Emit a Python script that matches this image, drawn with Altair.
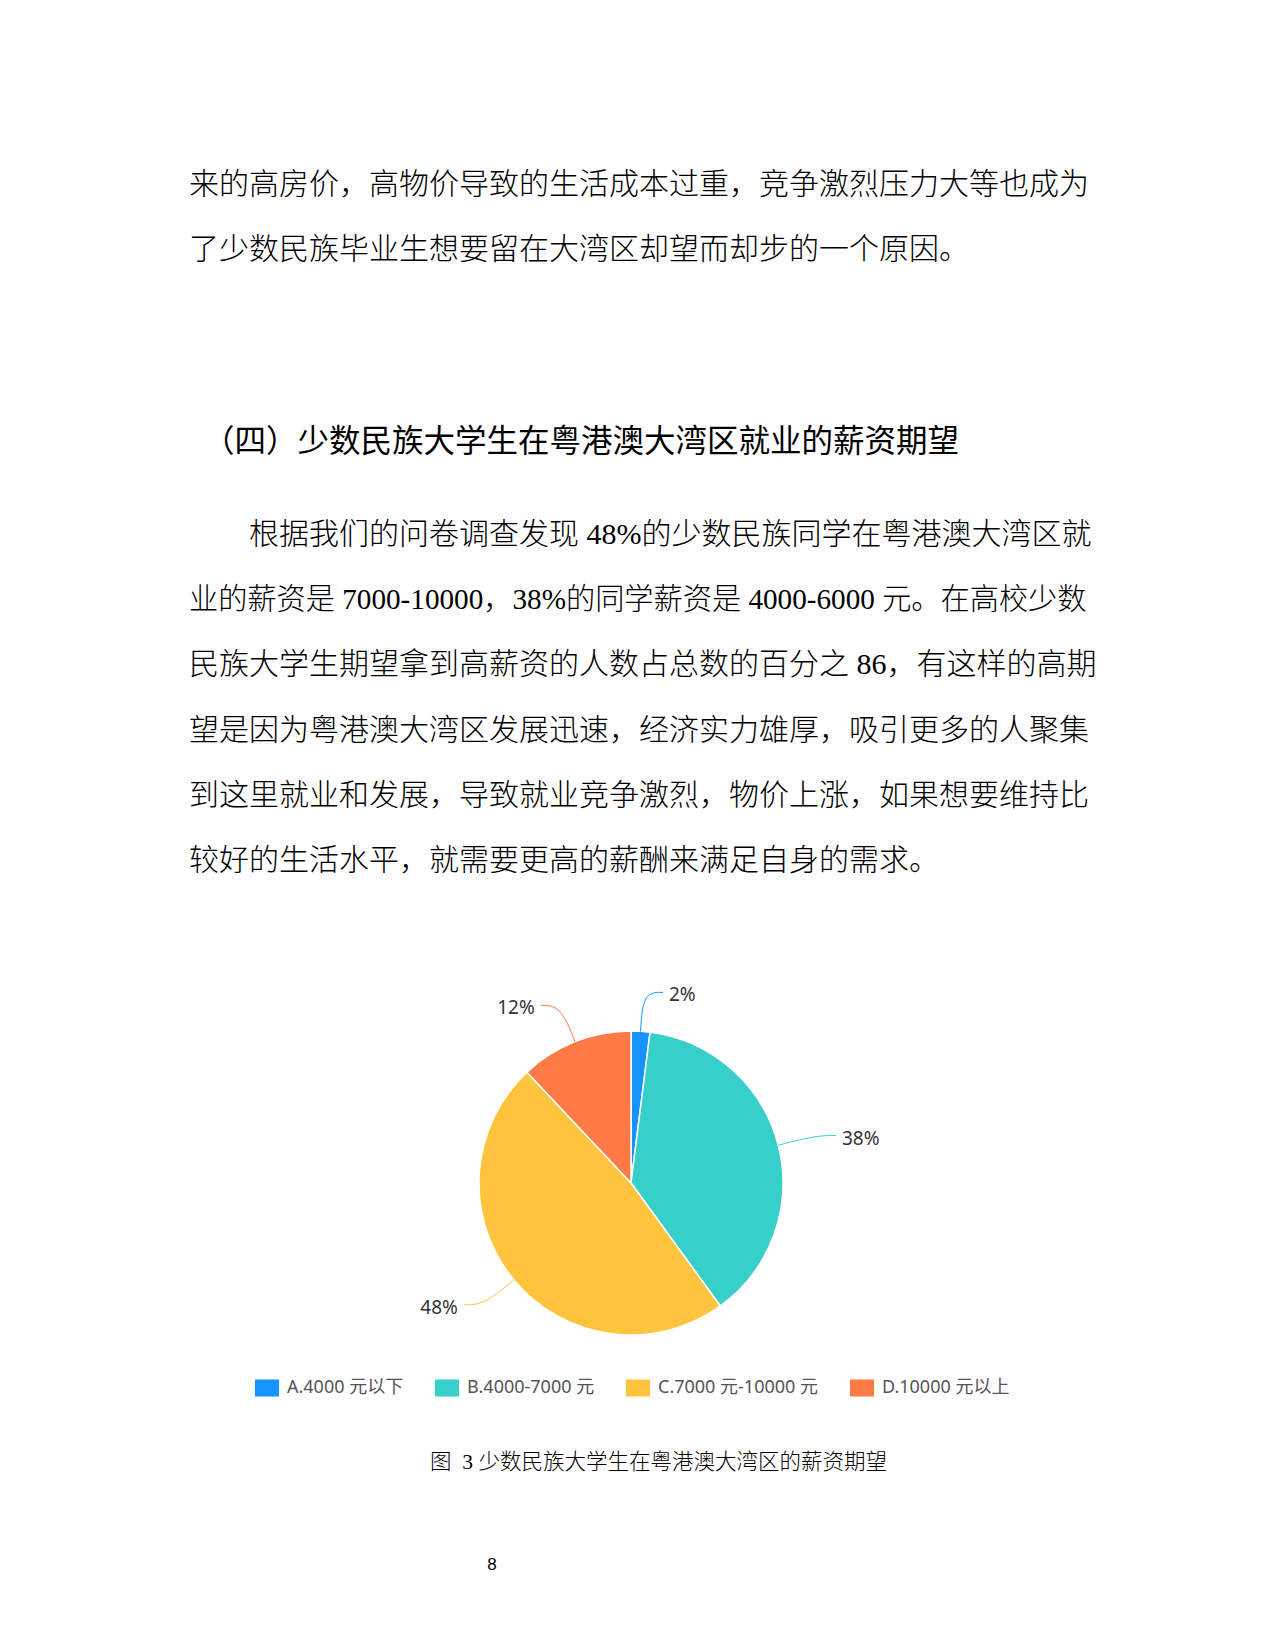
import altair as alt
import pandas as pd

# ---------------- data ----------------
categories = ["A.4000 元以下", "B.4000-7000 元", "C.7000 元-10000 元", "D.10000 元以上"]
shares = [2, 38, 48, 12]
palette = ["#1593FF", "#37CFC9", "#FEC43D", "#FF7A45"]

upper_lines = [
    "来的高房价，高物价导致的生活成本过重，竞争激烈压力大等也成为",
    "了少数民族毕业生想要留在大湾区却望而却步的一个原因。",
]
heading = "（四）少数民族大学生在粤港澳大湾区就业的薪资期望"
para_lines = [
    "根据我们的问卷调查发现 48%的少数民族同学在粤港澳大湾区就",
    "业的薪资是 7000-10000，38%的同学薪资是 4000-6000 元。在高校少数",
    "民族大学生期望拿到高薪资的人数占总数的百分之 86，有这样的高期",
    "望是因为粤港澳大湾区发展迅速，经济实力雄厚，吸引更多的人聚集",
    "到这里就业和发展，导致就业竞争激烈，物价上涨，如果想要维持比",
    "较好的生活水平，就需要更高的薪酬来满足自身的需求。",
]
caption = "图\u00a0\u00a03\u00a0少数民族大学生在粤港澳大湾区的薪资期望"
page_no = "8"

# ---------------- layout ----------------
W, H = 1259, 1634
CX, CY = 623, 1175
R = 152
R1 = 191
L2 = 20
GAP = 6

BODY_FONT = "Liberation Serif, Noto Sans CJK SC"
HEAD_FONT = "Noto Sans CJK SC"
SANS = "Noto Sans, Noto Sans CJK SC"

df = pd.DataFrame({"cat": categories, "pct": shares})
cscale = alt.Scale(domain=categories, range=palette)
xs = alt.Scale(domain=[0, W], range=[0, W], nice=False, zero=False)
ys = alt.Scale(domain=[0, H], range=[0, H], nice=False, zero=False)

pie = alt.Chart(df).mark_arc(outerRadius=R, stroke="white", strokeWidth=1.5).encode(
    theta=alt.Theta("pct:Q", stack=True),
    color=alt.Color(
        "cat:N", scale=cscale, sort=categories,
        legend=alt.Legend(
            title=None, orient="none", legendX=247, legendY=1368,
            direction="horizontal",
            symbolType="M-1,-0.7083H1V0.7083H-1Z", symbolSize=576,
            symbolStrokeWidth=0, symbolOpacity=1,
            labelFont=SANS, labelFontSize=18, labelColor="#555555",
            labelOffset=8, columnPadding=31, labelLimit=400,
        ),
    ),
    order=alt.Order("cat:N", sort="ascending"),
    x=alt.value(CX),
    y=alt.value(CY),
)

geo = (
    alt.Chart(df)
    .transform_window(cum="sum(pct)", sort=[alt.SortField("cat", order="ascending")], frame=[None, 0])
    .transform_joinaggregate(total="sum(pct)")
    .transform_calculate(ang="2*PI*(datum.cum - datum.pct/2)/datum.total")
    .transform_calculate(sx="sin(datum.ang)")
    .transform_calculate(cx="cos(datum.ang)")
    .transform_calculate(side="datum.sx >= 0 ? 1 : -1")
)

lines = (
    geo.transform_calculate(pts="[0, 1, 2]")
    .transform_flatten(["pts"])
    .transform_calculate(rr=f"datum.pts == 0 ? {R} : {R1}")
    .transform_calculate(px=f"{CX} + datum.rr*datum.sx + (datum.pts == 2 ? datum.side*{L2} : 0)")
    .transform_calculate(py=f"{CY} - datum.rr*datum.cx")
    .mark_line(interpolate="basis", strokeWidth=1)
    .encode(
        x=alt.X("px:Q", scale=xs, axis=None),
        y=alt.Y("py:Q", scale=ys, axis=None),
        detail="cat:N",
        order="pts:Q",
        stroke=alt.Stroke("cat:N", scale=cscale, legend=None),
    )
)

lab = (
    geo.transform_calculate(lx=f"{CX} + {R1}*datum.sx + datum.side*{L2 + GAP}")
    .transform_calculate(ly=f"{CY} - {R1}*datum.cx + 3")
    .transform_calculate(lab="datum.pct + '%'")
)
lab_r = lab.transform_filter("datum.side > 0").mark_text(
    align="left", baseline="middle", font=SANS, fontSize=19, color="#333333"
).encode(x=alt.X("lx:Q", scale=xs, axis=None), y=alt.Y("ly:Q", scale=ys, axis=None), text="lab:N")
lab_l = lab.transform_filter("datum.side < 0").mark_text(
    align="right", baseline="middle", font=SANS, fontSize=19, color="#333333"
).encode(x=alt.X("lx:Q", scale=xs, axis=None), y=alt.Y("ly:Q", scale=ys, axis=None), text="lab:N")


def txt(s, x, y, size, font, align="left", weight="normal", color="#000000"):
    return alt.Chart(pd.DataFrame({"t": [s]})).mark_text(
        align=align, baseline="middle", font=font, fontSize=size,
        fontWeight=weight, color=color,
    ).encode(text="t:N", x=alt.value(x), y=alt.value(y))


texts = []
LEFT = 181
for i, s in enumerate(upper_lines):
    texts.append(txt(s, LEFT, 177 + i * 65, 30, BODY_FONT, weight=300))
texts.append(txt(heading, 195, 435, 31.5, HEAD_FONT))
para_sizes = [30, 29.2, 30, 30, 30, 30]
for i, s in enumerate(para_lines):
    x = LEFT + 60 if i == 0 else LEFT
    texts.append(txt(s, x, 527 + i * 65.2, para_sizes[i], BODY_FONT, weight=300))
texts.append(txt(caption, 422, 1455, 21.5, BODY_FONT, weight=300))
texts.append(txt(page_no, 484, 1557, 17, "Liberation Sans", align="center"))

chart = (
    alt.layer(pie, lines, lab_r, lab_l, *texts)
    .properties(width=W, height=H, padding=0,
                autosize=alt.AutoSizeParams(type="none"), background="white")
    .configure_view(stroke=None)
)

chart.save("out.html", embed_options={"renderer": "svg", "actions": False})
